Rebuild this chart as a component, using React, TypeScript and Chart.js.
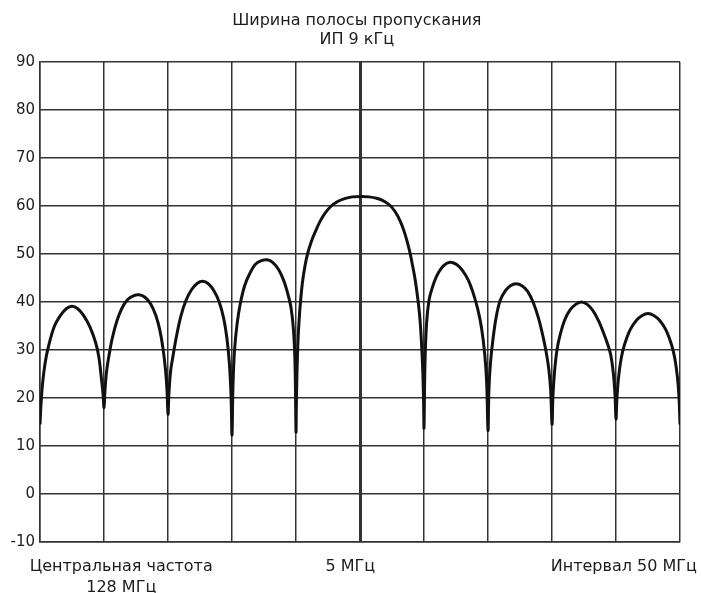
import React, { useEffect, useRef } from "react";
import { Chart, registerables } from "chart.js";

Chart.register(...registerables);

// Title and axis annotations
const titleLines = ["Ширина полосы пропускания", "ИП 9 кГц"];
const leftLabel = ["Центральная частота", "128 МГц"];
const centerLabel = "5 МГц";
const rightLabel = "Интервал 50 МГц";

// Y axis (dB) range
const yMin = -10;
const yMax = 90;
const yStep = 10;

// X axis in grid divisions (10 divisions across)
const xMin = 0;
const xMax = 10;

// Curve: [x division, level]
const lobe1: [number, number][] = [
  [0, 14.5], [0.015, 18.5], [0.04, 23], [0.08, 27.3], [0.13, 30.6], [0.22, 34.8], [0.32, 37.2],
  [0.41, 38.6], [0.5, 39.1], [0.59, 38.6], [0.68, 37.2], [0.78, 34.8], [0.87, 31.5], [0.92, 28.5],
  [0.96, 24], [0.985, 20.8],
];
const lobe2: [number, number][] = [
  [1, 18], [1.015, 21.5], [1.04, 25.5], [1.08, 29], [1.13, 32.5], [1.2, 36], [1.28, 38.7],
  [1.37, 40.5], [1.46, 41.3], [1.55, 41.5], [1.64, 41.0], [1.73, 39.6], [1.81, 37.2], [1.87, 34.3],
  [1.92, 30.5], [1.96, 26], [1.985, 21.5],
];
const lobe3: [number, number][] = [
  [2, 16.6], [2.015, 21], [2.04, 25.5], [2.08, 28.9], [2.13, 32.7], [2.2, 37], [2.28, 40.3],
  [2.37, 42.6], [2.46, 43.9], [2.54, 44.3], [2.63, 43.8], [2.72, 42.3], [2.8, 40], [2.87, 36.6],
  [2.92, 32.5], [2.96, 27], [2.985, 20.5],
];
const lobe4: [number, number][] = [
  [3, 12.3], [3.015, 22.5], [3.04, 30], [3.08, 35.5], [3.13, 39.7], [3.2, 43.5], [3.28, 46],
  [3.37, 47.9], [3.46, 48.6], [3.55, 48.8], [3.64, 48.2], [3.73, 46.7], [3.81, 44.4], [3.87, 41.8],
  [3.92, 39], [3.96, 34.3], [3.985, 27],
];
const mainLobe: [number, number][] = [
  [4, 13], [4.005, 18], [4.015, 25], [4.03, 31.5], [4.05, 36.5], [4.07, 40], [4.1, 44],
  [4.14, 47.5], [4.18, 50], [4.24, 52.6], [4.3, 54.6], [4.38, 56.9], [4.46, 58.6], [4.55, 60],
  [4.65, 60.95], [4.76, 61.55], [4.88, 61.9], [5.02, 62], [5.14, 61.9], [5.26, 61.6],
  [5.37, 61.05], [5.47, 60.1], [5.55, 58.8], [5.63, 56.8], [5.7, 54.3], [5.77, 50.9],
  [5.82, 47.7], [5.86, 44.8], [5.9, 41], [5.93, 37.5], [5.95, 34], [5.97, 29], [5.985, 24],
  [5.995, 18],
];
const lobe6: [number, number][] = [
  [6, 13.8], [6.015, 27], [6.04, 35.5], [6.08, 40.5], [6.13, 43], [6.19, 45.2], [6.27, 47],
  [6.35, 48], [6.42, 48.3], [6.51, 47.8], [6.6, 46.6], [6.69, 44.6], [6.77, 41.8], [6.84, 38.5],
  [6.9, 34.5], [6.95, 29], [6.98, 23],
];
const lobe7: [number, number][] = [
  [7, 13.2], [7.015, 22], [7.04, 27.5], [7.08, 32.5], [7.13, 37], [7.19, 40.3], [7.27, 42.3],
  [7.35, 43.4], [7.44, 43.8], [7.53, 43.4], [7.62, 42.2], [7.71, 39.8], [7.79, 36.6], [7.86, 32.8],
  [7.91, 29.5], [7.95, 26], [7.98, 21.5],
];
const lobe8: [number, number][] = [
  [8, 14.5], [8.015, 20.5], [8.04, 25.5], [8.08, 30.2], [8.13, 33.3], [8.2, 36.3], [8.28, 38.3],
  [8.37, 39.5], [8.46, 40], [8.55, 39.5], [8.64, 38.2], [8.73, 36], [8.81, 33.4], [8.87, 31.2],
  [8.92, 28.8], [8.96, 25], [8.985, 20.5],
];
const lobe9: [number, number][] = [
  [9, 15.6], [9.015, 20], [9.04, 24.3], [9.08, 28.2], [9.13, 31], [9.22, 34.2], [9.32, 36.2],
  [9.41, 37.2], [9.5, 37.6], [9.59, 37.2], [9.68, 36.2], [9.78, 34.2], [9.87, 31], [9.92, 28.2],
  [9.96, 24.3], [9.985, 20], [10, 14.5],
];

const curve = [...lobe1, ...lobe2, ...lobe3, ...lobe4, ...mainLobe, ...lobe6, ...lobe7, ...lobe8, ...lobe9];

const FONT_FAMILY = '"DejaVu Sans", "Liberation Sans", Arial, sans-serif';
const TEXT_COLOR = "#1c1c1c";
const GRID_COLOR = "#333333";

const textPlugin = {
  id: "annotTexts",
  afterDraw(chart: any) {
    const { ctx, chartArea, scales } = chart;
    const xs = scales.x;
    ctx.save();
    ctx.fillStyle = TEXT_COLOR;
    ctx.font = `16px ${FONT_FAMILY}`;
    ctx.textBaseline = "alphabetic";
    ctx.textAlign = "center";
    const midX = xs.getPixelForValue(4.95);
    ctx.fillText(titleLines[0], midX, chartArea.top - 37);
    ctx.fillText(titleLines[1], midX, chartArea.top - 18.5);
    const lx = xs.getPixelForValue(1.27);
    ctx.fillText(leftLabel[0], lx, chartArea.bottom + 28.5);
    ctx.fillText(leftLabel[1], lx, chartArea.bottom + 49.5);
    ctx.fillText(centerLabel, xs.getPixelForValue(4.85), chartArea.bottom + 28.5);
    ctx.textAlign = "left";
    ctx.fillText(rightLabel, xs.getPixelForValue(7.98), chartArea.bottom + 28.5);
    ctx.restore();
  },
};

export default function App() {
  const ref = useRef<HTMLCanvasElement | null>(null);

  useEffect(() => {
    if (!ref.current) return;
    const chart = new Chart(ref.current, {
      type: "line",
      data: {
        datasets: [
          {
            data: curve.map(([x, y]) => ({ x, y })),
            borderColor: "#111111",
            borderWidth: 3,
            pointRadius: 0,
            tension: 0.35,
            fill: false,
          },
        ],
      },
      options: {
        animation: false,
        responsive: false,
        maintainAspectRatio: false,
        layout: { padding: { left: 0, right: 21, top: 62, bottom: 51 } },
        plugins: {
          legend: { display: false },
          title: { display: false },
          tooltip: { enabled: false },
        },
        scales: {
          x: {
            type: "linear",
            min: xMin,
            max: xMax,
            ticks: { display: false, stepSize: 1 },
            grid: {
              color: GRID_COLOR,
              lineWidth: (c: any) => (c.tick && c.tick.value === 5 ? 3 : 1.5),
              drawTicks: false,
            },
            border: { color: GRID_COLOR, width: 1.5 },
            afterFit: (s: any) => {
              s.height = 0;
            },
          },
          y: {
            min: yMin,
            max: yMax,
            ticks: {
              stepSize: yStep,
              color: TEXT_COLOR,
              padding: 5,
              font: { family: FONT_FAMILY, size: 15 },
            },
            grid: { color: GRID_COLOR, lineWidth: 1.5, drawTicks: false },
            border: { color: GRID_COLOR, width: 1.5 },
            afterFit: (s: any) => {
              s.width = 40;
            },
          },
        },
      },
      plugins: [textPlugin],
    });
    return () => chart.destroy();
  }, []);

  return (
    <div style={{ position: "absolute", left: 0, top: 0, width: 701, height: 593, background: "#fff" }}>
      <canvas ref={ref} width={701} height={593} style={{ display: "block" }} />
    </div>
  );
}
